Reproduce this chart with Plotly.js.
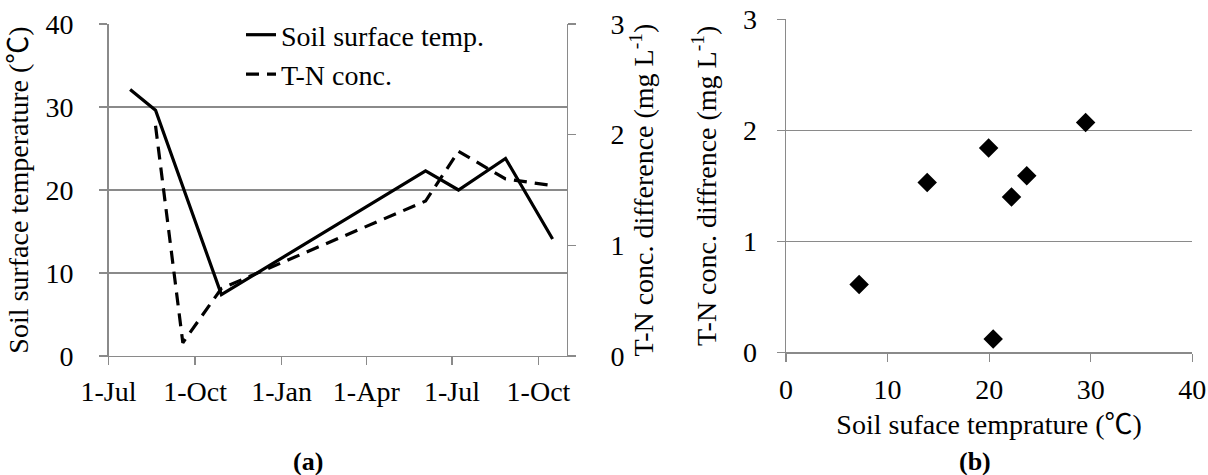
<!DOCTYPE html>
<html><head><meta charset="utf-8">
<script src="https://cdn.plot.ly/plotly-3.0.1.min.js"></script>
<style>html,body{margin:0;padding:0;background:#fff}</style>
</head><body><div id="chart" style="width:1208px;height:475px"></div>
<script>
// ---- data ----
const tempDates = ['2010-07-24','2010-08-20','2010-10-29','2011-06-03','2011-07-08','2011-08-27','2011-10-16'];
const tempValues = [32.1, 29.6, 7.4, 22.3, 20.0, 23.8, 14.1];
const tnDates = ['2010-08-20','2010-09-18','2010-10-29','2011-06-03','2011-07-08','2011-08-27','2011-10-16'];
const tnValues = [2.08, 0.12, 0.61, 1.40, 1.85, 1.60, 1.54];
const scatterTemp = [7.2, 13.9, 19.95, 20.4, 22.2, 23.7, 29.5];
const scatterTN = [0.61, 1.53, 1.84, 0.12, 1.40, 1.59, 2.07];
const dateTickVals = ['2010-07-01','2010-10-01','2011-01-01','2011-04-01','2011-07-01','2011-10-01'];
const dateTickLabels = ['1-Jul','1-Oct','1-Jan','1-Apr','1-Jul','1-Oct'];
const tempTicks = [0, 10, 20, 30, 40];
const tnTicks = [0, 1, 2, 3];
const scatterXTicks = [0, 10, 20, 30, 40];
const seriesNames = ['Soil surface temp.', 'T-N conc.'];
const panelLabels = ['(a)', '(b)'];

// ---- styling ----
const W = 1208, H = 475;
const FONT = 'Liberation Serif, Noto Sans CJK JP, serif';
const FS = 28;
const GRAY = '#8a8a8a';
const tickFont = {family: FONT, size: FS, color: '#000'};

const traces = [
  {x: tempDates, y: tempValues, xaxis: 'x', yaxis: 'y', mode: 'lines', name: seriesNames[0],
   line: {color: '#000', width: 3.2}},
  {x: tnDates, y: tnValues, xaxis: 'x', yaxis: 'y2', mode: 'lines', name: seriesNames[1],
   line: {color: '#000', width: 3.2, dash: '13px,8px'}},
  {x: scatterTemp, y: scatterTN, xaxis: 'x2', yaxis: 'y3', mode: 'markers', showlegend: false,
   marker: {symbol: 'diamond', size: 15, color: '#000'}}
];

function baseAxis(extra) {
  return Object.assign({
    ticks: 'outside', ticklen: 8, tickwidth: 1.3, tickcolor: GRAY,
    showline: true, linecolor: GRAY, linewidth: 1.3,
    zeroline: false, showgrid: false, tickfont: tickFont,
    fixedrange: true
  }, extra);
}

const layout = {
  width: W, height: H,
  margin: {l: 0, r: 0, t: 0, b: 0},
  paper_bgcolor: '#fff', plot_bgcolor: 'rgba(0,0,0,0)',
  font: {family: FONT, size: FS, color: '#000'},
  showlegend: true,
  legend: {x: 241 / W, xanchor: 'left', y: 1 - 10 / H, yanchor: 'top',
           bgcolor: 'rgba(0,0,0,0)', font: {family: FONT, size: FS, color: '#000'},
           tracegroupgap: 0},
  xaxis: baseAxis({
    domain: [108.5 / W, 566.7 / W], anchor: 'y', type: 'date',
    range: ['2010-07-01', '2011-10-31'],
    tickmode: 'array', tickvals: dateTickVals, ticktext: dateTickLabels,
    ticklabelstandoff: 2
  }),
  yaxis: baseAxis({
    domain: [1 - 356 / H, 1 - 24 / H], anchor: 'x', range: [0, 40],
    tickmode: 'array', tickvals: tempTicks,
    showgrid: true, gridcolor: GRAY, gridwidth: 1.3,
    ticklabelstandoff: 20,
    title: {text: 'Soil surface temperature (℃)', font: {family: FONT, size: FS, color: '#000'}, standoff: 8}
  }),
  yaxis2: baseAxis({
    overlaying: 'y', side: 'right', anchor: 'x', range: [0, 3],
    tickmode: 'array', tickvals: tnTicks,
    ticklabelstandoff: 29,
    title: {text: 'T-N conc. difference (mg L<sup>-1</sup>)', font: {family: FONT, size: FS, color: '#000'}, standoff: 7}
  }),
  xaxis2: baseAxis({
    domain: [786 / W, 1192.3 / W], anchor: 'y3', range: [0, 40],
    tickmode: 'array', tickvals: scatterXTicks,
    ticklabelstandoff: 4,
    title: {text: 'Soil suface temprature (℃)', font: {family: FONT, size: FS, color: '#000'}, standoff: 10}
  }),
  yaxis3: baseAxis({
    domain: [1 - 352.3 / H, 1 - 19.3 / H], anchor: 'x2', range: [0, 3],
    tickmode: 'array', tickvals: tnTicks,
    showgrid: true, gridcolor: GRAY, gridwidth: 1.3,
    ticklabelstandoff: 14,
    title: {text: 'T-N conc. diffrence (mg L<sup>-1</sup>)', font: {family: FONT, size: FS, color: '#000'}, standoff: 18}
  }),
  annotations: [
    {text: '<b>' + panelLabels[0] + '</b>', xref: 'paper', yref: 'paper', x: 308 / W, y: 1 - 461 / H,
     xanchor: 'center', yanchor: 'middle',
     showarrow: false, font: {family: FONT, size: 26, color: '#000'}},
    {text: '<b>' + panelLabels[1] + '</b>', xref: 'paper', yref: 'paper', x: 975 / W, y: 1 - 461 / H,
     xanchor: 'center', yanchor: 'middle',
     showarrow: false, font: {family: FONT, size: 26, color: '#000'}}
  ]
};

Plotly.newPlot('chart', traces, layout, {displayModeBar: false, staticPlot: true});
</script>
</body></html>
